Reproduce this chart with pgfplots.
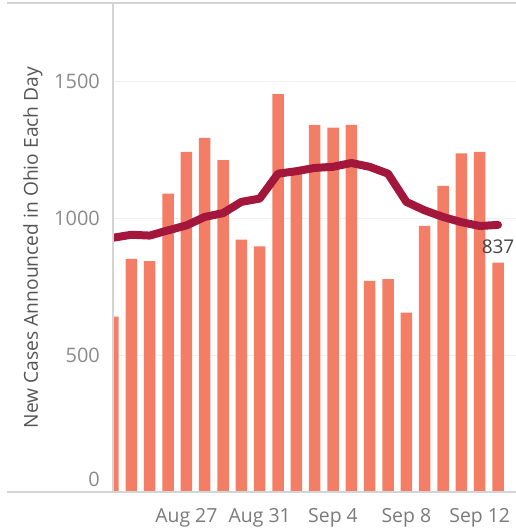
\documentclass[border=0pt]{standalone}
\usepackage{pgfplots}
\pgfplotsset{compat=1.18}
\usepackage{fontspec}
\setmainfont{Open Sans}
\definecolor{barc}{HTML}{F47D66}
\definecolor{linec}{HTML}{A3173D}
\definecolor{axgray}{HTML}{D4D4D4}
\definecolor{gridc}{HTML}{EFEFEF}
\definecolor{ytickc}{HTML}{8A8A8A}
\definecolor{xtickc}{HTML}{7A7A7A}
\definecolor{labc}{HTML}{555555}
\definecolor{valc}{HTML}{444444}
\begin{document}
\begin{tikzpicture}
\begin{axis}[
  scale only axis, width=403bp, height=489bp,
  xmin=0, xmax=21.98, ymin=0, ymax=1785,
  axis line style={draw=none},
  major tick length=0pt,
  ymajorgrids, grid style={gridc, line width=1bp},
  ytick={500,1000,1500}, yticklabels={500,1000,1500},
  extra y ticks={0}, extra y tick labels={0},
  extra y tick style={grid=none, yticklabel style={yshift=13bp}},
  xtick={4,8,12,16,20},
  xticklabels={Aug 27,Aug 31,Sep 4,Sep 8,Sep 12},
  tick label style={inner sep=0pt},
  yticklabel style={font=\fontsize{20}{24}\selectfont, anchor=east, xshift=-13bp, text=ytickc},
  xticklabel style={font=\fontsize{19.5}{24}\selectfont, anchor=center, yshift=-26bp, text=xtickc},
  every axis y label/.style={at={(rel axis cs:0,0.5)}, rotate=90, anchor=center, yshift=80bp},
  ylabel={New Cases Announced in Ohio Each Day},
  ylabel style={font=\fontsize{19.3}{22}\selectfont, text=labc},
]
\addplot[ybar, bar width=11.5bp, fill=barc, draw=none, bar shift=0pt] coordinates {
(0,640) (1,851) (2,843) (3,1089) (4,1242) (5,1293) (6,1211) (7,921) (8,897)
(9,1452) (10,1160) (11,1340) (12,1330) (13,1340) (14,771) (15,777) (16,655)
(17,971) (18,1117) (19,1236) (20,1242) (21,837)};
\addplot[linec, line width=8bp, line join=round, line cap=round, mark=none] coordinates {
(0,928) (1,939) (2,936) (3,955) (4,973) (5,1004) (6,1018) (7,1059) (8,1071)
(9,1162) (10,1171) (11,1183) (12,1187) (13,1201) (14,1187) (15,1162) (16,1059)
(17,1028) (18,1004) (19,985) (20,971) (21,975)};
\node[anchor=south, inner sep=0pt, yshift=9bp, text=valc, font=\fontsize{19}{22}\selectfont] at (axis cs:21,837) {837};
\end{axis}
\draw[axgray, line width=1.5bp] (current axis.south west) -- (current axis.north west);
\draw[axgray, line width=2bp] ([xshift=-106bp]current axis.north west) -- (current axis.north east);
\draw[axgray, line width=1.5bp] ([xshift=-106bp]current axis.south west) -- (current axis.south east);
\pgfresetboundingbox
\path[use as bounding box] ([xshift=-113bp,yshift=-39bp]current axis.south west) rectangle ([yshift=3bp]current axis.north east);
\end{tikzpicture}
\end{document}
